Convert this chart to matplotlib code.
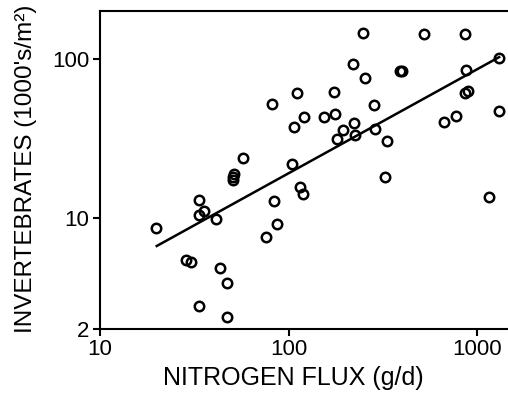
import numpy as np
import matplotlib
matplotlib.use("Agg")
import matplotlib.pyplot as plt

# nitrogen flux (g/d) and invertebrate density (1000's/m2)
nitrogen_flux = [19.8, 28.5, 30.5, 33.4, 35.8, 33.4, 33.4, 41.4, 43.5, 47.0,
                 47.3, 51.4, 50.8, 50.6, 57.4, 75.7, 82.0, 83.5, 86.9, 106.6,
                 104.8, 110.9, 114.7, 118.9, 120.8, 154.3, 175.9, 173.7, 180.3,
                 193.9, 219.0, 222.6, 226.2, 249.4, 253.7, 284.1, 288.7, 323.8,
                 331.9, 390.4, 398.6, 523.4, 670.9, 770.9, 860.3, 863.5, 898.9,
                 877.4, 1158, 1308, 1308]
invertebrates = [8.6, 5.4, 5.3, 13.0, 11.1, 10.4, 2.8, 9.9, 4.87, 3.89,
                 2.39, 18.9, 18.1, 17.3, 23.9, 7.6, 51.9, 12.8, 9.2, 37.3,
                 21.8, 61.1, 15.7, 14.2, 43.4, 43.0, 45.1, 61.7, 31.5,
                 35.6, 93.0, 39.6, 33.4, 146.3, 76.3, 51.6, 36.1, 18.2,
                 30.4, 83.7, 83.7, 144.2, 39.8, 43.8, 144.2, 61.4, 63.2,
                 84.9, 13.6, 101, 47.1]

# fitted power law y = a * x^b, drawn over the data range
fit_a = 0.938
fit_b = 0.654
fit_range = [20, 1310]

x_ticks = [10, 100, 1000]
y_ticks = [2, 10, 100]

plt.rcParams['font.family'] = ['Liberation Sans', 'DejaVu Sans']

fig = plt.figure(figsize=(5.08, 3.99), dpi=100)
ax = fig.add_axes([100 / 508, 70 / 399, 408 / 508, 318 / 399])

fx = np.logspace(np.log10(fit_range[0]), np.log10(fit_range[1]), 50)
ax.plot(fx, fit_a * fx ** fit_b, color='black', lw=1.8)
ax.plot(nitrogen_flux, invertebrates, 'o', mfc='none', mec='black',
        ms=6.8, mew=1.8)

ax.set_xscale('log')
ax.set_yscale('log')
ax.set_xlim(10, 1460)
ax.set_ylim(2, 200)
ax.set_xticks(x_ticks)
ax.set_xticklabels([str(t) for t in x_ticks])
ax.set_yticks(y_ticks)
ax.set_yticklabels([str(t) for t in y_ticks])
ax.minorticks_off()
ax.tick_params(direction='out', length=5, width=1.5, labelsize=16, pad=2.5)

ax.spines['right'].set_visible(False)
for s in ['left', 'top', 'bottom']:
    ax.spines[s].set_linewidth(1.5)

ax.set_xlabel('NITROGEN FLUX (g/d)', fontsize=18)
ax.xaxis.set_label_coords(0.473, -0.115)
ax.set_ylabel("INVERTEBRATES (1000's/m²)", fontsize=17.5)
ax.yaxis.set_label_coords(-0.154, 0.505)

fig.savefig('out.png', dpi=100)
